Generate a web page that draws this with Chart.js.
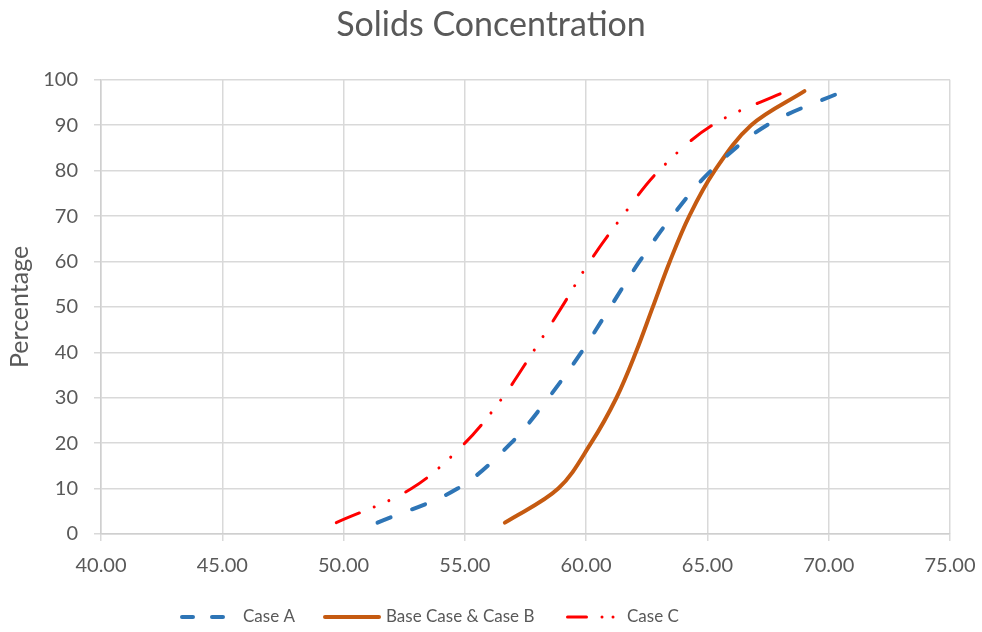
<!DOCTYPE html>
<html lang="en">
  <head>
    <meta charset="UTF-8" />
    <title>Solids Concentration</title>
    <script src="https://cdn.jsdelivr.net/npm/chart.js@4.4.0/dist/chart.umd.min.js"></script>
    <style>
      body {
        margin: 0;
        background-color: #ffffff;
      }
    </style>
  </head>
  <body>
    <canvas id="myChart" width="982" height="632"></canvas>

    <script>
      // cumulative percentage and solids concentration
      const percentage = [2.5, 10, 20, 30, 40, 50, 60, 70, 80, 90, 97.5];
      const caseA = [51.4, 54.7, 56.9, 58.45, 59.8, 61.0, 62.2, 63.55, 65.15, 67.45, 70.6];
      const baseCase = [56.65, 58.85, 60.2, 61.25, 62.05, 62.75, 63.45, 64.25, 65.3, 66.8, 69.0];
      const caseC = [49.7, 52.8, 55.0, 56.55, 57.8, 59.0, 60.15, 61.5, 63.0, 65.2, 68.25];
      const seriesNames = ["Case A", "Base Case & Case B", "Case C"];

      const textColor = "#595959";
      const gridColor = "#D9D9D9";

      function toPoints(xs) {
        return xs.map((x, i) => ({ x: x, y: percentage[i] }));
      }

      // legend drawn by hand so the samples look like the Excel ones
      const legendLine = {
        id: "legendLine",
        afterDraw(chart) {
          const ctx = chart.ctx;
          const y = 617;
          const samples = [
            { x: 182, len: 43, dash: [11, 19], width: 4, gap: 18 },
            { x: 325, len: 54, dash: [], width: 4, gap: 7 },
            { x: 567.5, len: 46, dash: [19, 15.5, 0.01, 11, 0.01, 100], width: 3, gap: 13.5 },
          ];
          ctx.save();
          ctx.font = "17px Lato";
          ctx.textBaseline = "middle";
          ctx.fillStyle = textColor;
          chart.data.datasets.forEach((ds, i) => {
            const s = samples[i];
            ctx.beginPath();
            ctx.setLineDash(s.dash);
            ctx.lineCap = "round";
            ctx.lineWidth = s.width;
            ctx.strokeStyle = ds.borderColor;
            ctx.moveTo(s.x, y);
            ctx.lineTo(s.x + s.len, y);
            ctx.stroke();
            ctx.setLineDash([]);
            ctx.fillText(ds.label, s.x + s.len + s.gap, y);
          });
          ctx.restore();
        },
      };

      const ctx = document.getElementById("myChart").getContext("2d");
      const myChart = new Chart(ctx, {
        type: "scatter",
        data: {
          datasets: [
            {
              label: seriesNames[0],
              data: toPoints(caseA),
              borderColor: "#2E75B6",
              backgroundColor: "#2E75B6",
              borderWidth: 4,
              borderDash: [14, 23],
              borderCapStyle: "round",
            },
            {
              label: seriesNames[1],
              data: toPoints(baseCase),
              borderColor: "#C55A11",
              backgroundColor: "#C55A11",
              borderWidth: 4,
              borderCapStyle: "round",
            },
            {
              label: seriesNames[2],
              data: toPoints(caseC),
              borderColor: "#FF0000",
              backgroundColor: "#FF0000",
              borderWidth: 3,
              borderDash: [25, 16, 0.01, 16, 0.01, 19],
              borderCapStyle: "round",
            },
          ],
        },
        options: {
          responsive: false,
          animation: false,
          showLine: true,
          elements: {
            point: { radius: 0, hoverRadius: 0 },
            line: { tension: 0.35, fill: false },
          },
          layout: {
            padding: { left: 0, right: 0, top: 0, bottom: 38 },
          },
          scales: {
            x: {
              type: "linear",
              min: 40,
              max: 75,
              afterFit: (scale) => {
                scale.height = 60;
                scale.paddingRight = 32;
              },
              ticks: {
                stepSize: 5,
                color: textColor,
                font: { family: "Lato", size: 20 },
                padding: 13,
                callback: (v) => v.toFixed(2),
              },
              grid: {
                color: gridColor,
                lineWidth: 1.5,
                tickLength: 7,
              },
              border: { color: "#CFCFCF", width: 1.5 },
            },
            y: {
              min: 0,
              max: 100,
              afterFit: (scale) => {
                scale.width = 101;
              },
              ticks: {
                stepSize: 10,
                color: textColor,
                font: { family: "Lato", size: 20 },
                padding: 16,
              },
              grid: {
                color: gridColor,
                lineWidth: 1.5,
                tickLength: 7,
              },
              border: { color: "#CFCFCF", width: 1.5 },
              title: {
                display: true,
                text: "Percentage",
                color: textColor,
                font: { family: "Lato", size: 25 },
                padding: { top: 5, bottom: 0 },
              },
            },
          },
          plugins: {
            title: {
              display: true,
              text: "Solids Concentration",
              color: textColor,
              font: { family: "Lato", size: 34, weight: "normal" },
              padding: { top: 5, bottom: 34 },
            },
            legend: { display: false },
            tooltip: { enabled: false },
          },
        },
        plugins: [legendLine],
      });
    </script>
  </body>
</html>
